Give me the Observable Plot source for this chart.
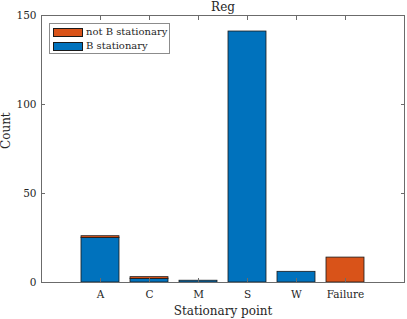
<!DOCTYPE html>
<html>
<head>
<meta charset="utf-8">
<script src="https://cdn.jsdelivr.net/npm/d3@7"></script>
<script src="https://cdn.jsdelivr.net/npm/@observablehq/plot@0.6"></script>
<style>
  html, body { margin: 0; padding: 0; background: #fff; }
  #wrap { position: relative; width: 407px; height: 319px; font-family: "DejaVu Serif", serif; }
  #legend { position: absolute; left: 49px; top: 23px; width: 119px; height: 29px; border: 1px solid #8c8c8c; background: #fff; font-size: 10px; color: #262626; }
  .row { position: absolute; left: 3px; height: 10px; display: flex; align-items: center; }
  .sw { width: 30px; height: 9px; border: 0.8px solid #1a1a1a; box-sizing: border-box; margin-right: 3px; }
  .lab { white-space: nowrap; line-height: 10px; }
</style>
</head>
<body>
<div id="wrap"></div>
<script>
const categories = ["A", "C", "M", "S", "W", "Failure"];
const seriesNames = ["B stationary", "not B stationary"];
const bStationary = [25, 2, 1, 141, 6, 0];
const notBStationary = [1, 1, 0, 0, 0, 14];
const yTicks = [0, 50, 100, 150];
const colors = ["#0072BD", "#D95319"];
const titleText = "Reg";
const xLabel = "Stationary point";
const yLabel = "Count";

const rows = [];
categories.forEach((c, i) => {
  rows.push({cat: c, series: seriesNames[0], value: bStationary[i]});
  rows.push({cat: c, series: seriesNames[1], value: notBStationary[i]});
});

const textColor = "#262626";
const axisColor = "#6b6b6b";

const chart = Plot.plot({
  width: 407,
  height: 319,
  marginLeft: 41,
  marginRight: 3,
  marginTop: 15,
  marginBottom: 37,
  style: {fontFamily: "DejaVu Serif, serif", fontSize: "10.5px", color: textColor, background: "#fff"},
  x: {type: "band", domain: categories, paddingInner: 0.22, paddingOuter: 0.81, align: 0.5},
  y: {domain: [0, 150]},
  color: {domain: seriesNames, range: colors},
  marks: [
    Plot.barY(rows.filter(d => d.value > 0), {x: "cat", y: "value", fill: "series", stroke: "#1a1a1a", strokeWidth: 0.8, order: seriesNames}),
    Plot.frame({stroke: axisColor, strokeWidth: 1}),
    Plot.axisY({anchor: "left", ticks: yTicks, tickSize: 0, tickPadding: 5, label: null}),
    Plot.axisY({anchor: "left", ticks: yTicks, tickSize: -4, tickFormat: () => "", label: null, stroke: axisColor}),
    Plot.axisY({anchor: "right", ticks: yTicks, tickSize: -4, tickFormat: () => "", label: null, stroke: axisColor}),
    Plot.axisX({anchor: "bottom", tickSize: 0, tickPadding: 8, label: null}),
    Plot.axisX({anchor: "bottom", tickSize: -4, tickFormat: () => "", label: null, stroke: axisColor}),
    Plot.axisX({anchor: "top", tickSize: -4, tickFormat: () => "", label: null, stroke: axisColor}),
    Plot.text([yLabel], {text: d => d, frameAnchor: "left", rotate: -90, dx: -35, fontSize: 12, fill: textColor}),
    Plot.text([xLabel], {text: d => d, frameAnchor: "bottom", dy: 29, lineAnchor: "middle", fontSize: 12, fill: textColor}),
    Plot.text([titleText], {text: d => d, frameAnchor: "top", dy: -5, lineAnchor: "bottom", fontSize: 12, fill: textColor})
  ]
});
const wrap = document.getElementById("wrap");
wrap.appendChild(chart);

const legend = document.createElement("div");
legend.id = "legend";
const legendOrder = [1, 0];
legendOrder.forEach((si, k) => {
  const row = document.createElement("div");
  row.className = "row";
  row.style.top = (3 + k * 14) + "px";
  const sw = document.createElement("div");
  sw.className = "sw";
  sw.style.background = colors[si];
  const lab = document.createElement("span");
  lab.className = "lab";
  lab.textContent = seriesNames[si];
  row.appendChild(sw);
  row.appendChild(lab);
  legend.appendChild(row);
});
wrap.appendChild(legend);
</script>
</body>
</html>
